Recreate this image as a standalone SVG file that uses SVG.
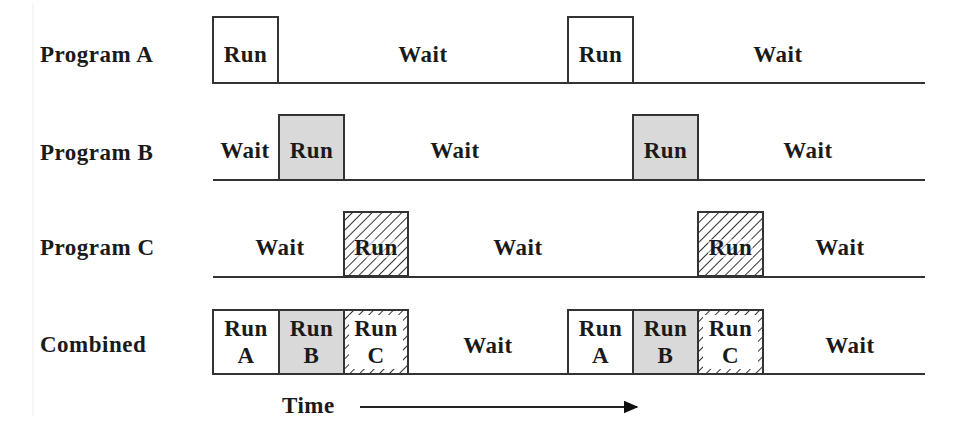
<svg xmlns="http://www.w3.org/2000/svg" width="962" height="424" viewBox="0 0 962 424">
<style>
text{font-family:"Liberation Serif","Times New Roman",serif;font-weight:bold;font-size:23px;letter-spacing:0.5px;fill:#1a1a1a}
.c{text-anchor:middle}
.box{stroke:#333;stroke-width:2;fill:#fff}
.gray{fill:#d9d9d9}
.hatch{fill:url(#h)}
.base{stroke:#333;stroke-width:2.2;fill:none}
</style>
<defs>
<pattern id="h" width="7" height="7" patternUnits="userSpaceOnUse" patternTransform="rotate(45)">
<rect width="7" height="7" fill="#fff"/>
<line x1="0" y1="0" x2="0" y2="7" stroke="#333" stroke-width="2"/>
</pattern>
<marker id="arr" viewBox="0 0 10 10" refX="9" refY="5" markerWidth="15" markerHeight="13" orient="auto" markerUnits="userSpaceOnUse" preserveAspectRatio="none">
<path d="M0,0 L10,5 L0,10 z" fill="#111"/>
</marker>
</defs>
<rect width="962" height="424" fill="#fff"/>
<line x1="33" y1="3" x2="33" y2="416" stroke="#eee" stroke-width="1"/>

<g id="programA">
<text x="40" y="62">Program A</text>
<rect class="box" x="213" y="17" width="65" height="66"/>
<rect class="box" x="568" y="17" width="65" height="66"/>
<line class="base" x1="213" y1="83" x2="925" y2="83"/>
<text class="c" x="245.5" y="62">Run</text>
<text class="c" x="423" y="62">Wait</text>
<text class="c" x="600.5" y="62">Run</text>
<text class="c" x="778" y="62">Wait</text>
</g>

<g id="programB">
<text x="40" y="160">Program B</text>
<rect class="box gray" x="279" y="115" width="65" height="65"/>
<rect class="box gray" x="633" y="115" width="65" height="65"/>
<line class="base" x1="213" y1="180" x2="925" y2="180"/>
<text class="c" x="245" y="158">Wait</text>
<text class="c" x="311.5" y="158">Run</text>
<text class="c" x="455" y="158">Wait</text>
<text class="c" x="665.5" y="158">Run</text>
<text class="c" x="808" y="158">Wait</text>
</g>

<g id="programC">
<text x="40" y="255">Program C</text>
<rect class="box hatch" x="344" y="212" width="64" height="64"/>
<rect class="box hatch" x="698" y="212" width="65" height="64"/>
<line class="base" x1="213" y1="277" x2="925" y2="277"/>
<text class="c" x="280" y="255">Wait</text>
<rect x="354" y="239" width="44" height="19" fill="#fff" opacity="0.5"/>
<text class="c" x="376" y="255">Run</text>
<text class="c" x="518" y="255">Wait</text>
<rect x="708" y="239" width="45" height="19" fill="#fff" opacity="0.5"/>
<text class="c" x="730.5" y="255">Run</text>
<text class="c" x="840" y="255">Wait</text>
</g>

<g id="combined">
<text x="40" y="352">Combined</text>
<rect class="box" x="213" y="310" width="66" height="64"/>
<rect class="box gray" x="279" y="310" width="65" height="64"/>
<rect class="box hatch" x="344" y="310" width="64" height="64"/>
<rect x="349" y="315" width="54" height="54" fill="#fff"/>
<rect class="box" x="568" y="310" width="65" height="64"/>
<rect class="box gray" x="633" y="310" width="65" height="64"/>
<rect class="box hatch" x="698" y="310" width="65" height="64"/>
<rect x="703" y="315" width="55" height="54" fill="#fff"/>
<line class="base" x1="213" y1="374" x2="925" y2="374"/>
<text class="c" x="246" y="336">Run</text>
<text class="c" x="246" y="363">A</text>
<text class="c" x="311.5" y="336">Run</text>
<text class="c" x="311.5" y="363">B</text>
<text class="c" x="376" y="336">Run</text>
<text class="c" x="376" y="363">C</text>
<text class="c" x="488" y="353">Wait</text>
<text class="c" x="600.5" y="336">Run</text>
<text class="c" x="600.5" y="363">A</text>
<text class="c" x="665.5" y="336">Run</text>
<text class="c" x="665.5" y="363">B</text>
<text class="c" x="730.5" y="336">Run</text>
<text class="c" x="730.5" y="363">C</text>
<text class="c" x="850" y="353">Wait</text>
</g>

<g id="connectors">
<text x="282" y="413">Time</text>
<line x1="360" y1="407" x2="637" y2="407" stroke="#222" stroke-width="2.2" marker-end="url(#arr)"/>
</g>
</svg>
